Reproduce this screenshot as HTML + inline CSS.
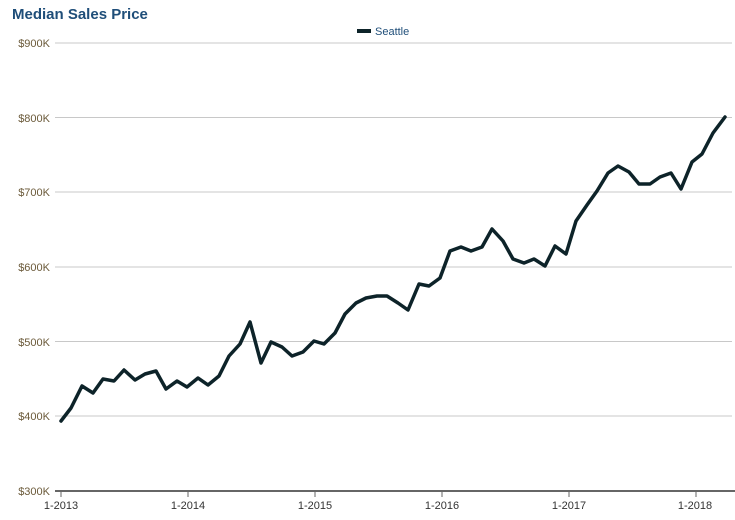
<!DOCTYPE html>
<html><head><meta charset="utf-8"><style>
body{margin:0;background:#fff;width:735px;height:515px;overflow:hidden;font-family:"Liberation Sans",sans-serif}
</style></head><body>
<svg width="735" height="515" xmlns="http://www.w3.org/2000/svg" font-family="Liberation Sans, sans-serif">
<text x="12" y="19" font-size="15" font-weight="bold" fill="#1f4e79">Median Sales Price</text>
<line x1="357" y1="31" x2="371" y2="31" stroke="#0d2329" stroke-width="4"/>
<text x="375" y="35" font-size="11" fill="#1f4e79">Seattle</text>
<g stroke="#c8c8c8" stroke-width="1">
<line x1="55" y1="43" x2="732" y2="43"/>
<line x1="55" y1="117.5" x2="732" y2="117.5"/>
<line x1="55" y1="192" x2="732" y2="192"/>
<line x1="55" y1="267" x2="732" y2="267"/>
<line x1="55" y1="341.5" x2="732" y2="341.5"/>
<line x1="55" y1="416" x2="732" y2="416"/>
</g>
<g font-size="11" fill="#6b5a3a" text-anchor="end">
<text x="50" y="47">$900K</text><text x="50" y="122">$800K</text><text x="50" y="196">$700K</text>
<text x="50" y="271">$600K</text><text x="50" y="346">$500K</text><text x="50" y="420">$400K</text>
<text x="50" y="495">$300K</text>
</g>
<line x1="55" y1="491" x2="735" y2="491" stroke="#666" stroke-width="2"/>
<g stroke="#666" stroke-width="1">
<line x1="61" y1="491" x2="61" y2="497"/><line x1="188" y1="491" x2="188" y2="497"/>
<line x1="315" y1="491" x2="315" y2="497"/><line x1="442" y1="491" x2="442" y2="497"/>
<line x1="569" y1="491" x2="569" y2="497"/><line x1="696" y1="491" x2="696" y2="497"/>
</g>
<g font-size="11" fill="#333" text-anchor="middle">
<text x="61" y="509">1-2013</text><text x="188" y="509">1-2014</text><text x="315" y="509">1-2015</text>
<text x="442" y="509">1-2016</text><text x="569" y="509">1-2017</text><text x="695" y="509">1-2018</text>
</g>
<text x="680" y="523" font-size="11" fill="#3a78b8">Seattle Trulia</text>
<polyline fill="none" stroke="#0d2329" stroke-width="3.5" stroke-linejoin="round" stroke-linecap="round" points="
61,421 71,408 82,386 93,393 103,379 114,381 124,370 135,380 145,374 156,371 166,389 177,381 187,387 198,378 208,385 219,376 229,356 240,344 250,322 261,363 271,342 282,347 292,356 303,352 314,341 324,344 335,333 345,314 356,303 366,298 377,296 387,296 398,303 408,310 419,284 429,286 440,278 450,251 461,247 471,251 482,247 492,229 503,241 513,259 524,263 534,259 545,266 555,246 566,254 576,221 587,205 597,191 608,173 618,166 629,172 639,184 650,184 660,177 671,173 681,189 692,162 702,154 713,133 725,117"/>
</svg>
</body></html>
